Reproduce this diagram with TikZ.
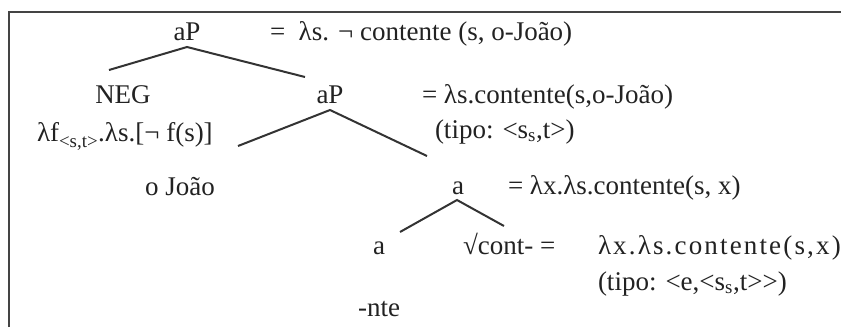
\documentclass[tikz,border=0pt]{standalone}
\usepackage{fontspec}
\setmainfont{Liberation Serif}
\definecolor{txt}{HTML}{222222}
\definecolor{lc}{HTML}{333333}
\definecolor{fc}{HTML}{444444}
\begin{document}
\begin{tikzpicture}[x=1pt,y=-1pt,
  every node/.style={inner sep=0pt,outer sep=0pt,font=\fontsize{27}{32}\selectfont,text=txt},
  label/.style={anchor=base},
  sem/.style={anchor=base west},
  branch/.style={draw=lc,line width=2pt},
  frameline/.style={draw=fc,line width=2pt}]
\useasboundingbox (0,0) rectangle (841,327);
\draw[frameline] (9,327) -- (9,12) -- (841,12);
% nodes
\node[label] (aP1) at (187,40) {aP};
\node[sem] (aP1sem) at (270,40) {=\ \ λs. ¬ contente (s, o-João)};
\node[label] (neg) at (123,103) {NEG};
\node[sem] (negsem) at (37,141) {λf\raisebox{-3pt}{\textsubscript{<s,t>}}.λs.[¬ f(s)]};
\node[label] (aP2) at (330,103) {aP};
\node[sem] (aP2sem) at (422,103) {= λs.contente(s,o-João)};
\node[sem] (aP2type) at (435,138) {(tipo: <s\textsubscript{s},t>)};
\node[label] (joao) at (180,195) {o João};
\node[label] (a1) at (458,194) {a};
\node[sem] (a1sem) at (508,194) {= λx.λs.contente(s, x)};
\node[label] (a2) at (379,254) {a};
\node[sem] (root) at (463,254) {√cont- =};
\node[sem] (rootsem) at (598,254) {\addfontfeature{LetterSpace=8}λx.λs.contente(s,x)};
\node[sem] (roottype) at (598,290) {(tipo: <e,<s\textsubscript{s},t>{}>)};
\node[label] (nte) at (379,316) {-nte};
% branch points
\coordinate (b1) at (187,47);
\coordinate (b1l) at (109,70);
\coordinate (b1r) at (305,77);
\coordinate (b2) at (330,110);
\coordinate (b2l) at (238,146);
\coordinate (b2r) at (427,156);
\coordinate (b3) at (457,200);
\coordinate (b3l) at (400,232);
\coordinate (b3r) at (504,226);
\draw[branch] (b1l) -- (b1) -- (b1r);
\draw[branch] (b2l) -- (b2) -- (b2r);
\draw[branch] (b3l) -- (b3) -- (b3r);
\end{tikzpicture}
\end{document}
